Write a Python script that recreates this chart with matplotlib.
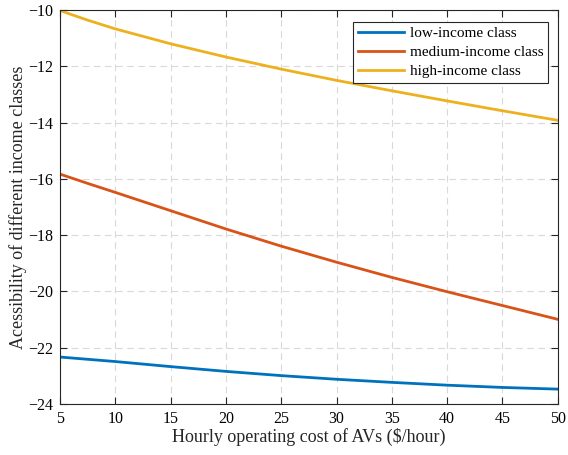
import matplotlib.pyplot as plt

# operating cost of AVs ($/hour) and accessibility of each income class
cost = [5, 7.5, 10, 15, 20, 25, 30, 35, 40, 45, 50]
low_income = [-22.33, -22.41, -22.49, -22.67, -22.84, -22.99, -23.12, -23.23, -23.33, -23.41, -23.47]
medium_income = [-15.83, -16.16, -16.48, -17.13, -17.78, -18.39, -18.96, -19.50, -20.01, -20.50, -20.99]
high_income = [-10.02, -10.36, -10.67, -11.20, -11.67, -12.10, -12.50, -12.87, -13.23, -13.58, -13.92]

plt.rcParams['font.family'] = ['Liberation Serif', 'DejaVu Serif']

fig = plt.figure(figsize=(5.68, 4.55), dpi=100)
ax = fig.add_axes([0.1056, 0.112, 0.8764, 0.866])

ax.plot(cost, low_income, color='#0072BD', lw=2, label='low-income class')
ax.plot(cost, medium_income, color='#D95319', lw=2, label='medium-income class')
ax.plot(cost, high_income, color='#EDB120', lw=2, label='high-income class')

ax.set_xlim(5, 50)
ax.set_ylim(-24, -10)
ax.set_xticks(range(5, 51, 5))
ax.set_yticks(range(-24, -9, 2))
ax.grid(True, ls=(0, (6, 4)), color='#d9d9d9', lw=0.8)
ax.tick_params(direction='in', top=True, right=True, labelsize=11.5, length=5, width=0.8,
               color='#262626', pad=5)
for s in ax.spines.values():
    s.set_color('#262626')
    s.set_linewidth(0.8)

ax.set_xlabel('Hourly operating cost of AVs ($/hour)', fontsize=13, color='#262626', labelpad=1)
ax.set_ylabel('Acessibility of different income classes', fontsize=13, color='#262626', labelpad=1)

leg = ax.legend(loc='upper right', fontsize=11, fancybox=False, edgecolor='#262626',
                framealpha=1, bbox_to_anchor=(0.98, 0.97), borderaxespad=0,
                handlelength=3.0, handletextpad=0.4, labelspacing=0.35, borderpad=0.3)
leg.get_frame().set_linewidth(0.8)

fig.savefig('out.png', dpi=100)
